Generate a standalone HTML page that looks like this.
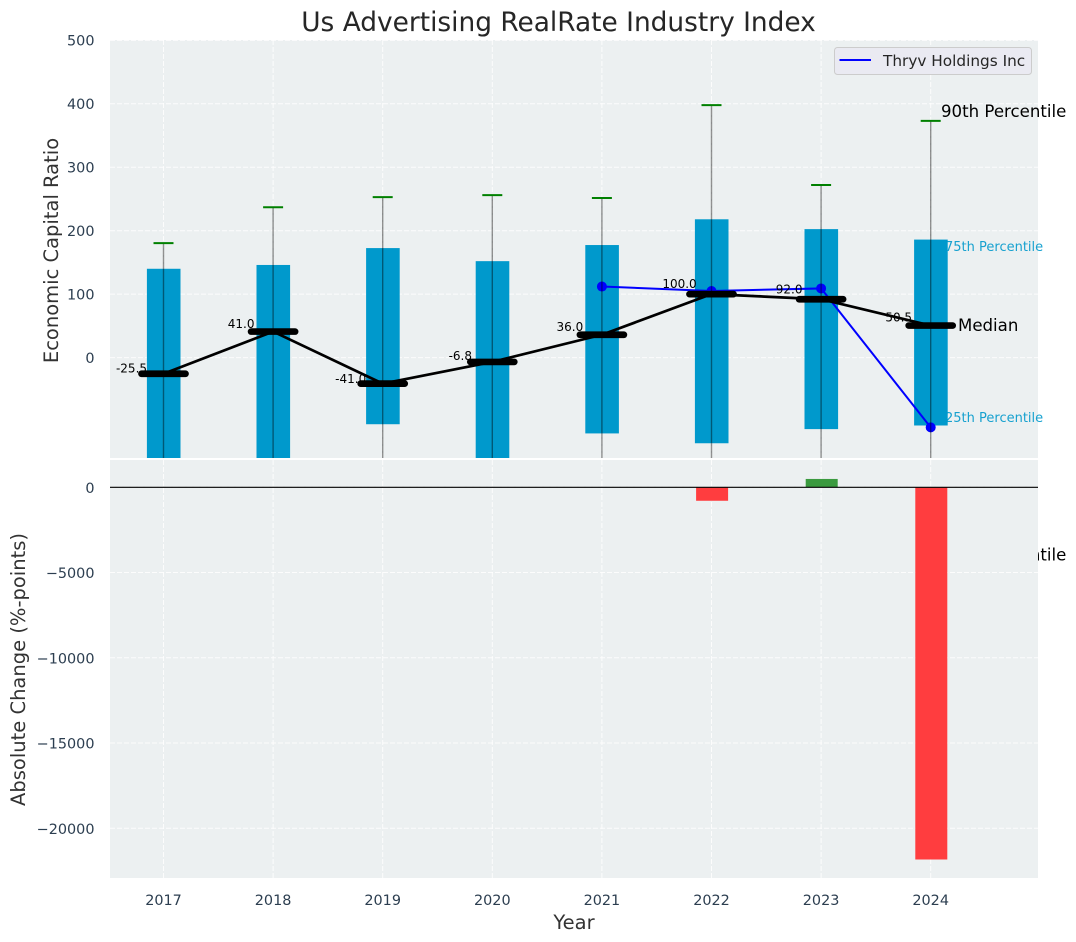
<!DOCTYPE html>
<html lang="en">
<head>
<meta charset="utf-8">
<title>Us Advertising RealRate Industry Index</title>
<style>
html,body{margin:0;padding:0;background:#fff;width:1076px;height:942px;overflow:hidden}
svg{display:block}
text{font-family:"DejaVu Sans","Liberation Sans",sans-serif}
.tick{font-size:14.4px;fill:#2c3e50}
.axis-title{font-size:19.5px;fill:#333}
.pct{font-size:13px;fill:#0099cc;opacity:.9}
.big{font-size:16.6px;fill:#000}
.val{font-size:12px;fill:#000}
</style>
</head>
<body>
<svg id="chart" xmlns="http://www.w3.org/2000/svg" width="1076" height="942" viewBox="0 0 1076 942">
  <defs>
    <clipPath id="clip-top"><rect x="110" y="40" width="928" height="418"/></clipPath>
    <clipPath id="clip-bottom"><rect x="110" y="460" width="928" height="418"/></clipPath>
  </defs>
  <rect x="0" y="0" width="1076" height="942" fill="#fff"/>
  <text x="558.5" y="31" text-anchor="middle" font-size="26.4px" fill="#262626">Us Advertising RealRate Industry Index</text>

  <rect x="110" y="40" width="928" height="418" fill="#ecf0f1"/>
  <g id="top-grid" clip-path="url(#clip-top)"></g>
  <g id="top-marks" clip-path="url(#clip-top)"></g>
  <g id="top-ticks"></g>
  <g id="annotations">
    <text id="lbl-p90" class="big" x="941">90th Percentile</text>
    <text id="lbl-p75" class="pct" x="945">75th Percentile</text>
    <text id="lbl-med" class="big" x="958">Median</text>
    <text id="lbl-p25" class="pct" x="945">25th Percentile</text>
    <text id="lbl-p10" class="big" x="941">10th Percentile</text>
  </g>

  <rect x="110" y="458" width="928" height="2" fill="#fff"/>
  <rect x="110" y="460" width="928" height="418" fill="#ecf0f1"/>
  <g id="bottom-grid" clip-path="url(#clip-bottom)"></g>
  <g id="bottom-marks" clip-path="url(#clip-bottom)"></g>
  <line x1="110" x2="1038" y1="487.3" y2="487.3" stroke="#000" stroke-width="1.2"/>
  <g id="bottom-ticks"></g>
  <g id="x-ticks"></g>

  <g id="legend">
    <rect x="834.5" y="47.5" width="197" height="27" rx="3" fill="#eaeaf2" stroke="#cccccc" stroke-width="1"/>
    <line x1="839.5" x2="871" y1="60" y2="60" stroke="#0000ff" stroke-width="2"/>
    <text x="883" y="66" font-size="15.3px" fill="#262626">Thryv Holdings Inc</text>
  </g>

  <text class="axis-title" transform="translate(58,250.5) rotate(-90)" text-anchor="middle">Economic Capital Ratio</text>
  <text class="axis-title" transform="translate(25,669.5) rotate(-90)" text-anchor="middle">Absolute Change (%-points)</text>
  <text class="axis-title" x="574" y="929" text-anchor="middle">Year</text>
</svg>
<script>
const years = [2017, 2018, 2019, 2020, 2021, 2022, 2023, 2024];
const p90 = [180.5, 237, 253, 256, 251.5, 398, 272, 373];
const p75 = [140, 146, 172.6, 152, 177.4, 218, 202.5, 186];
const medians = [-25.5, 41, -41, -6.8, 36, 100, 92, 50.5];
const p25 = [-190, -185, -105, -175, -119.5, -135, -112.7, -107];
const p10 = [-260, -250, -240, -270, -250, -290, -260, -311];
const companyYears = [2021, 2022, 2023, 2024];
const companyValues = [112, 105, 109, -110];
const changeYears = [2022, 2023, 2024];
const changeValues = [-790, 490, -21830];
const topTicks = [0, 100, 200, 300, 400, 500];
const bottomTicks = [0, -5000, -10000, -15000, -20000];

const NS = 'http://www.w3.org/2000/svg';
const X = function (yr) { return 163.5 + 109.6 * (yr - 2017); };
const YT = function (v) { return 357.6 - 0.6345 * v; };
const YB = function (v) { return 487.3 - 0.01705 * v; };

function mk(parent, tag, attrs, txt) {
  const el = document.createElementNS(NS, tag);
  for (const k in attrs) { el.setAttribute(k, attrs[k]); }
  if (txt !== undefined) { el.textContent = txt; }
  parent.appendChild(el);
  return el;
}
const gridStyle = { stroke: '#ffffff', 'stroke-width': 1, 'stroke-dasharray': '5 2', opacity: 0.85 };
function fmt(v) { return v < 0 ? '\u2212' + Math.abs(v) : String(v); }

const topGrid = document.getElementById('top-grid');
const bottomGrid = document.getElementById('bottom-grid');
const topMarks = document.getElementById('top-marks');
const bottomMarks = document.getElementById('bottom-marks');
const topTickG = document.getElementById('top-ticks');
const bottomTickG = document.getElementById('bottom-ticks');
const xTickG = document.getElementById('x-ticks');

topTicks.forEach(function (t) {
  const g = mk(topGrid, 'line', Object.assign({ x1: 110, x2: 1038, y1: YT(t), y2: YT(t) }, gridStyle));
  
  
  const l = mk(topTickG, 'text', { class: 'tick', x: 94.5, y: YT(t) + 5.3, 'text-anchor': 'end' }, fmt(t));
  
  
});
bottomTicks.forEach(function (t) {
  const g = mk(bottomGrid, 'line', Object.assign({ x1: 110, x2: 1038, y1: YB(t), y2: YB(t) }, gridStyle));
  
  
  const l = mk(bottomTickG, 'text', { class: 'tick', x: 94.5, y: YB(t) + 5.5, 'text-anchor': 'end' }, fmt(t));
  
  
});
years.forEach(function (yr) {
  const g1 = mk(topGrid, 'line', Object.assign({ x1: X(yr), x2: X(yr), y1: 40, y2: 458 }, gridStyle));
  
  
  const g2 = mk(bottomGrid, 'line', Object.assign({ x1: X(yr), x2: X(yr), y1: 460, y2: 878 }, gridStyle));
  
  
  const l = mk(xTickG, 'text', { class: 'tick', x: X(yr), y: 905, 'text-anchor': 'middle' }, String(yr));
  
  
});

/* interquartile bars */
years.forEach(function (yr, i) {
  const b = mk(topMarks, 'rect', { x: X(yr) - 16.6, width: 33.6, y: YT(p75[i]), height: YT(p25[i]) - YT(p75[i]), fill: '#0099cc' });
  
  
});
/* company series */
const blue = mk(topMarks, 'polyline', {
  points: companyYears.map(function (yr, i) { return X(yr) + ',' + YT(companyValues[i]); }).join(' '),
  fill: 'none', stroke: '#0000ff', 'stroke-width': 2
});


companyYears.forEach(function (yr, i) {
  const c = mk(topMarks, 'circle', { cx: X(yr), cy: YT(companyValues[i]), r: 5, fill: '#0000ff' });
  
  
});
/* whiskers and caps */
years.forEach(function (yr, i) {
  const w = mk(topMarks, 'line', { x1: X(yr), x2: X(yr), y1: YT(p90[i]), y2: YT(p10[i]), stroke: '#000', 'stroke-width': 1.4, opacity: 0.42 });
  
  
  const cap = mk(topMarks, 'line', { x1: X(yr) - 10, x2: X(yr) + 10, y1: YT(p90[i]), y2: YT(p90[i]), stroke: '#008000', 'stroke-width': 2 });
  
  
});
/* median trend */
const trend = mk(topMarks, 'polyline', {
  points: years.map(function (yr, i) { return X(yr) + ',' + YT(medians[i]); }).join(' '),
  fill: 'none', stroke: '#000', 'stroke-width': 2.7
});


years.forEach(function (yr, i) {
  const m = mk(topMarks, 'line', { x1: X(yr) - 22, x2: X(yr) + 22, y1: YT(medians[i]), y2: YT(medians[i]), stroke: '#000', 'stroke-width': 6.7, 'stroke-linecap': 'round' });
  
  
  const t = mk(topMarks, 'text', { class: 'val', x: X(yr) - 32, y: YT(medians[i] * 1.06) - 2.2, 'text-anchor': 'middle' }, medians[i].toFixed(1));
  
  
});
/* annotations anchored to the final year */
const last = years.length - 1;
document.getElementById('lbl-p90').setAttribute('y', YT(p90[last]) - 3.9);
document.getElementById('lbl-p75').setAttribute('y', YT(p75[last]) + 11.4);
document.getElementById('lbl-med').setAttribute('y', YT(medians[last]) + 5.5);
document.getElementById('lbl-p25').setAttribute('y', YT(p25[last]) - 3.3);
document.getElementById('lbl-p10').setAttribute('y', YT(p10[last]) + 5.4);

/* absolute change bars */
changeYears.forEach(function (yr, i) {
  const v = changeValues[i];
  const top = Math.min(YB(0), YB(v));
  const b = mk(bottomMarks, 'rect', { x: X(yr) - 15.4, width: 32, y: top, height: Math.abs(YB(v) - YB(0)), fill: v < 0 ? '#ff3d3f' : '#3a9a3f' });
  
  
});
</script>
</body>
</html>
